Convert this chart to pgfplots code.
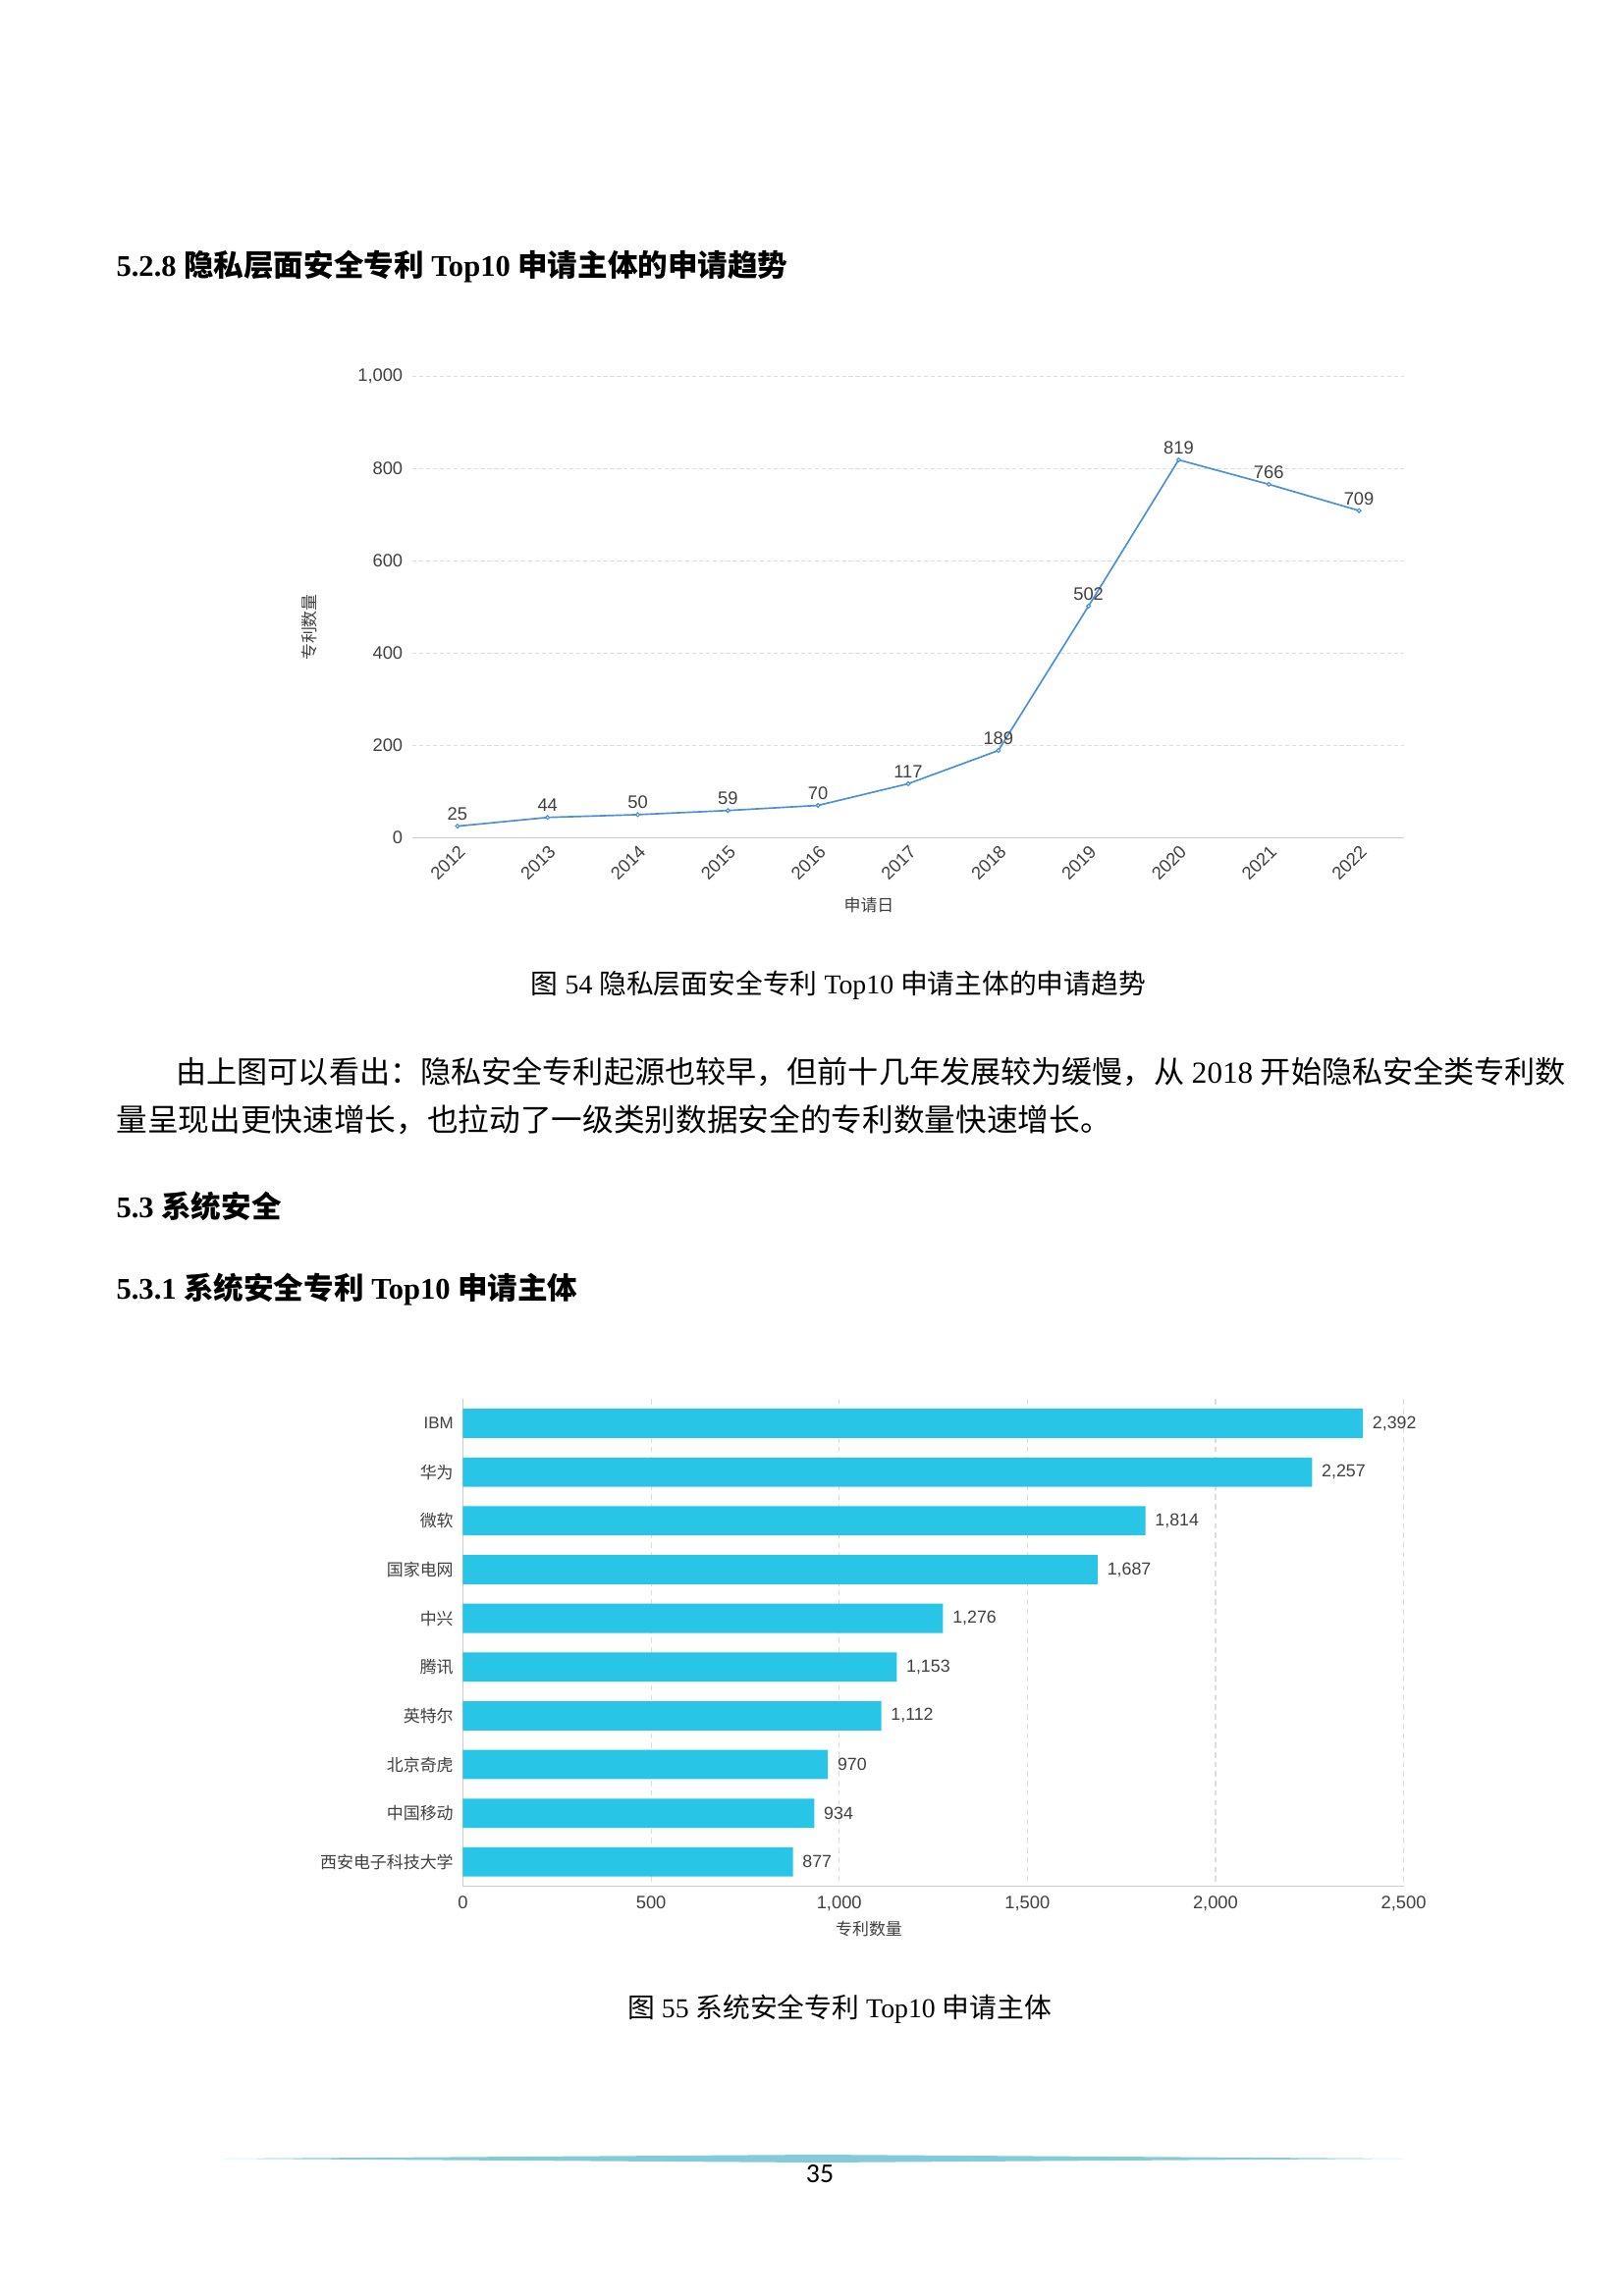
\documentclass[border=0pt]{standalone}
\usepackage{fontspec}
\setmainfont{Liberation Serif}
\setsansfont{Liberation Sans}
\newfontfamily\cjk{Noto Sans CJK SC}
\newfontfamily\pagenum{Carlito}
\usepackage{pgfplots}
\pgfplotsset{compat=1.18}
\definecolor{lineblue}{RGB}{74,144,217}
\definecolor{barcyan}{RGB}{41,197,230}
\definecolor{decor}{RGB}{132,203,218}
\definecolor{ticktxt}{RGB}{64,64,64}
\definecolor{gridc}{RGB}{221,221,221}
\definecolor{axisc}{RGB}{204,204,204}
\newcommand\zh[1]{{\cjk #1}}
\newcommand\chartfont{\fontsize{6.6}{8}\selectfont\sffamily}
\newcommand\zhfont{\fontsize{6.1}{7.5}\selectfont\cjk}

\begin{document}
\begin{tikzpicture}
% page frame and text, in pixel units, y downward
\begin{scope}[x=0.36pt, y=-0.36pt]
\fill[white] (0,0) rectangle (1653,2339);
\useasboundingbox (0,0) rectangle (1653,2339);
\node[anchor=west, inner sep=0] at (118,271.5)
  {\fontsize{11}{13}\selectfont\bfseries 5.2.8 \zh{隐私层面安全专利} Top10 \zh{申请主体的申请趋势}};
\node[inner sep=0] at (854,1004)
  {\fontsize{10}{12}\selectfont \zh{图} 54 \zh{隐私层面安全专利} Top10 \zh{申请主体的申请趋势}};
\node[anchor=west, inner sep=0] at (179,1092)
  {\fontsize{11.2}{13}\selectfont \zh{由上图可以看出：隐私安全专利起源也较早，但前十几年发展较为缓慢，从} 2018 \zh{开始隐私安全类专利数}};
\node[anchor=west, inner sep=0] at (118,1141)
  {\fontsize{11.4}{13}\selectfont \zh{量呈现出更快速增长，也拉动了一级类别数据安全的专利数量快速增长。}};
\node[anchor=west, inner sep=0] at (118,1229)
  {\fontsize{11}{13}\selectfont\bfseries 5.3 \zh{系统安全}};
\node[anchor=west, inner sep=0] at (118,1313)
  {\fontsize{11}{13}\selectfont\bfseries 5.3.1 \zh{系统安全专利} Top10 \zh{申请主体}};
\node[inner sep=0] at (855,2047)
  {\fontsize{10}{12}\selectfont \zh{图} 55 \zh{系统安全专利} Top10 \zh{申请主体}};
% axis titles
\node[inner sep=0, rotate=90, text=ticktxt] at (315,639) {\zhfont 专利数量};
\node[inner sep=0, text=ticktxt] at (885,922) {\zhfont 申请日};
\node[inner sep=0, text=ticktxt] at (885,1965) {\zhfont 专利数量};
% footer
\fill[decor] (228,2199) -- (833,2195) -- (1430,2199) -- (833,2203) -- cycle;
\node[inner sep=0] at (835,2215) {\fontsize{10}{12}\selectfont\pagenum 35};
\end{scope}

% line chart
\begin{axis}[
    at={(151.2pt,-307.22pt)}, anchor=south west,
    scale only axis, width=363.6pt, height=169.2pt,
    xmin=2011.5, xmax=2022.5, ymin=0, ymax=1000,
    xtick={2012,...,2022}, ytick={0,200,...,1000},
    axis x line*=bottom, axis y line*=left,
    y axis line style={draw=none},
    x axis line style={draw=axisc, line width=0.5pt},
    major tick length=0pt,
    ymajorgrids, grid style={gridc, dash pattern=on 1.5pt off 1pt, line width=0.4pt},
    tick label style={font=\chartfont, text=ticktxt},
    /pgf/number format/assume math mode=true,
    /pgf/number format/1000 sep={,},
    xticklabel style={rotate=45, anchor=north east, inner sep=1.5pt, /pgf/number format/1000 sep={}},
    clip=false,
]
\addplot[color=lineblue, line width=0.6pt, mark=*, mark size=0.7pt,
    mark options={fill=white, draw=lineblue, line width=0.4pt},
    nodes near coords,
    every node near coord/.append style={font=\chartfont, text=ticktxt, anchor=south, yshift=-1.4pt}]
  coordinates {(2012,25)(2013,44)(2014,50)(2015,59)(2016,70)(2017,117)(2018,189)(2019,502)(2020,819)(2021,766)(2022,709)};
\end{axis}

% bar chart
\begin{axis}[
    at={(169.74pt,-691.78pt)}, anchor=south west,
    scale only axis, width=344.9pt, height=178.7pt,
    xbar, bar width=0.6,
    y dir=reverse, ymin=-0.5, ymax=9.5,
    xmin=0, xmax=2500,
    xtick={0,500,...,2500}, ytick={0,...,9},
    yticklabels={IBM,\zh{华为},\zh{微软},\zh{国家电网},\zh{中兴},\zh{腾讯},\zh{英特尔},\zh{北京奇虎},\zh{中国移动},\zh{西安电子科技大学}},
    axis x line*=bottom, axis y line*=left,
    axis line style={draw=axisc, line width=0.5pt},
    major tick length=0pt,
    xmajorgrids, grid style={gridc, dash pattern=on 2pt off 1.5pt, line width=0.4pt},
    tick label style={font=\chartfont, text=ticktxt},
    yticklabel style={font=\fontsize{6.1}{7.5}\selectfont\sffamily},
    /pgf/number format/assume math mode=true,
    /pgf/number format/1000 sep={,},
    clip=false,
]
\addplot[fill=barcyan, draw=none, point meta=x,
    nodes near coords,
    every node near coord/.append style={font=\fontsize{6.4}{7.5}\selectfont\sffamily, text=ticktxt, anchor=west}]
  coordinates {(2392,0)(2257,1)(1814,2)(1687,3)(1276,4)(1153,5)(1112,6)(970,7)(934,8)(877,9)};
\end{axis}
\end{tikzpicture}
\end{document}
